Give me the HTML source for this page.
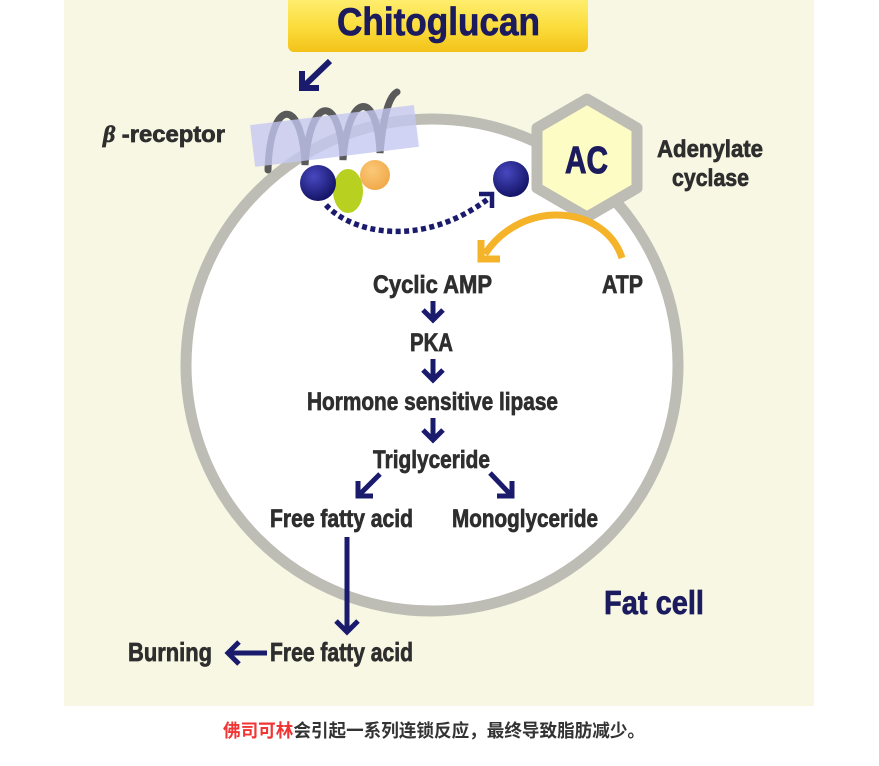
<!DOCTYPE html>
<html><head><meta charset="utf-8"><style>
html,body{margin:0;padding:0;background:#fff;width:879px;height:766px;overflow:hidden}
svg{display:block}
.t{font-family:"Liberation Sans Narrow","Liberation Sans",sans-serif;font-weight:bold;fill:#2e2e2e;stroke:#2e2e2e;stroke-width:0.7}
.n{fill:#1b1b5e;stroke:#1b1b5e}
</style></head><body>
<svg width="879" height="766" viewBox="0 0 879 766" xmlns="http://www.w3.org/2000/svg">
<defs>
<linearGradient id="yel" x1="0" y1="0" x2="0" y2="1">
<stop offset="0" stop-color="#fff27c"/><stop offset="0.6" stop-color="#fbdc3a"/><stop offset="1" stop-color="#f3c21a"/>
</linearGradient>
<radialGradient id="ball" cx="0.38" cy="0.32" r="0.7">
<stop offset="0" stop-color="#4848c0"/><stop offset="1" stop-color="#131366"/>
</radialGradient>
<radialGradient id="org" cx="0.4" cy="0.35" r="0.7">
<stop offset="0" stop-color="#fbc878"/><stop offset="1" stop-color="#f0a848"/>
</radialGradient>
</defs>
<rect x="64" y="0" width="750" height="706" fill="#f7f7e3"/>
<!-- cell -->
<circle cx="432" cy="365" r="246" fill="#ffffff" stroke="#bdbdb5" stroke-width="11"/>
<!-- chitoglucan box -->
<rect x="288" y="-8" width="300" height="60" rx="6" fill="url(#yel)"/>
<text class="t n" x="337" y="35" font-size="39" stroke-width="1.2" textLength="203" lengthAdjust="spacingAndGlyphs">Chitoglucan</text>
<!-- arrow from box -->
<g stroke="#1b1b6e" stroke-width="6" fill="none">
<line x1="330" y1="61" x2="304" y2="86"/>
<polyline points="302,71 302,88 319,88"/>
</g>
<!-- receptor coil -->
<path d="M268,170 C270,98 302,95 305,165 C310,95 340,92 343,160 C348,92 377,88 380,153 C384,110 390,96 397,92" stroke="#5a5a5a" stroke-width="7" fill="none" stroke-linecap="round"/>
<g transform="rotate(-7 334 136)">
<rect x="252" y="115" width="165" height="42" fill="#c4c6f2" opacity="0.78"/>
</g>
<text class="t" x="103" y="142" font-size="23" textLength="122" lengthAdjust="spacingAndGlyphs"><tspan font-style="italic" font-family="Liberation Serif, serif">β</tspan> -receptor</text>
<!-- balls -->
<ellipse cx="348" cy="191" rx="15" ry="22" fill="#b8d020"/>
<circle cx="375" cy="175" r="15" fill="url(#org)"/>
<circle cx="318" cy="183" r="18" fill="url(#ball)"/>
<circle cx="511" cy="179" r="18" fill="url(#ball)"/>
<!-- dotted -->
<path d="M326,205 C350,232 420,250 488,199" stroke="#1b1b6e" stroke-width="5.5" fill="none" stroke-dasharray="5 3.5"/>
<polyline points="479,194 492,194 492,208" stroke="#1b1b6e" stroke-width="4.5" fill="none"/>
<!-- hexagon -->
<polygon points="587,99 637,128 637,188 587,217 537,188 537,128" fill="#fdfcc4" stroke="#bdbdb5" stroke-width="11" stroke-linejoin="round"/>
<text x="565" y="173" font-family="'Liberation Sans',sans-serif" font-weight="bold" font-size="38" fill="#1b1b5e" stroke="#1b1b5e" stroke-width="1" textLength="43" lengthAdjust="spacingAndGlyphs">AC</text>
<text class="t" x="657" y="157" font-size="24" textLength="106" lengthAdjust="spacingAndGlyphs">Adenylate</text>
<text class="t" x="672" y="186" font-size="24" textLength="77" lengthAdjust="spacingAndGlyphs">cyclase</text>
<!-- orange arc -->
<path d="M622,258 C605,205 522,198 485,254" stroke="#f4b328" stroke-width="7" fill="none"/>
<polyline points="481,240 481,259 500,259" stroke="#f4b328" stroke-width="7" fill="none"/>
<!-- labels -->
<text class="t" x="373" y="293" font-size="25" textLength="119" lengthAdjust="spacingAndGlyphs">Cyclic AMP</text>
<text class="t" x="602" y="293" font-size="25" textLength="41" lengthAdjust="spacingAndGlyphs">ATP</text>
<text class="t" x="410" y="351" font-size="25" textLength="43" lengthAdjust="spacingAndGlyphs">PKA</text>
<text class="t" x="307" y="410" font-size="25" textLength="251" lengthAdjust="spacingAndGlyphs">Hormone sensitive lipase</text>
<text class="t" x="373" y="468" font-size="25" textLength="117" lengthAdjust="spacingAndGlyphs">Triglyceride</text>
<text class="t" x="270" y="527" font-size="25" textLength="143" lengthAdjust="spacingAndGlyphs">Free fatty acid</text>
<text class="t" x="452" y="527" font-size="25" textLength="146" lengthAdjust="spacingAndGlyphs">Monoglyceride</text>
<text class="t" x="270" y="661" font-size="26" textLength="143" lengthAdjust="spacingAndGlyphs">Free fatty acid</text>
<text class="t" x="128" y="661" font-size="26" textLength="84" lengthAdjust="spacingAndGlyphs">Burning</text>
<text class="t n" x="604" y="614" font-size="33" stroke-width="1" textLength="100" lengthAdjust="spacingAndGlyphs">Fat cell</text>
<!-- navy arrows -->
<g stroke="#1b1b6e" stroke-width="5" fill="none">
<line x1="433" y1="301" x2="433" y2="319"/><polyline points="423,310 433,320 443,310"/>
<line x1="433" y1="359" x2="433" y2="379"/><polyline points="423,370 433,380 443,370"/>
<line x1="433" y1="418" x2="433" y2="439"/><polyline points="423,430 433,440 443,430"/>
<line x1="380" y1="474" x2="360" y2="494"/><polyline points="358,481 358,496 373,496"/>
<line x1="490" y1="473" x2="510" y2="494"/><polyline points="512,481 512,496 497,496"/>
<line x1="347" y1="537" x2="347" y2="630"/><polyline points="336,621 347,632 358,621"/>
<line x1="267" y1="653" x2="230" y2="653"/><polyline points="239,642 228,653 239,664"/>
</g>
<!-- caption -->
<text x="223" y="737" font-family="'Liberation Sans','Noto Sans CJK SC',sans-serif" font-size="18" font-weight="bold" textLength="422" lengthAdjust="spacingAndGlyphs"><tspan fill="#f03535">佛司可林</tspan><tspan fill="#333333">会引起一系列连锁反应，最终导致脂肪减少。</tspan></text>
</svg>
</body></html>
